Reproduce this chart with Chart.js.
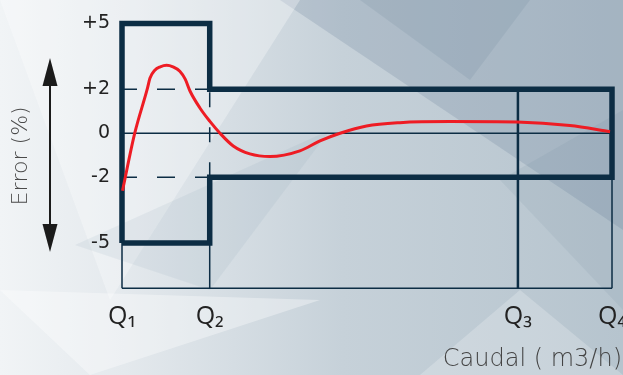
<!DOCTYPE html>
<html>
<head>
<meta charset="utf-8">
<script src="https://cdn.jsdelivr.net/npm/chart.js@4.4.1/dist/chart.umd.min.js"></script>
<style>
html, body { margin: 0; padding: 0; background: #e9eef1; }
#wrap { width: 623px; height: 375px; position: relative; }
</style>
</head>
<body>
<div id="wrap"><canvas id="errorChart"></canvas></div>
<script>
// ---- data ----
const flowLabels = ["Q₁", "Q₂", "Q₃", "Q₄"];
const flowPositions = [0, 1.79, 8.08, 10];     // Q1 .. Q4 on the flow axis
const errorTicks = [5, 2, 0, -2, -5];
const upperLimit = [5, 2];                     // Q1-Q2, Q2-Q4
const lowerLimit = [-5, -2];
const frameBottom = -7.06;

const curveFlow  = [0.01, 0.26, 0.52, 0.57, 0.67, 0.78, 0.91, 1.04, 1.18, 1.29, 1.39, 1.59, 1.79, 2.0, 2.27, 2.61, 3.02, 3.63, 4.04, 4.45, 4.99, 5.67, 6.69, 8.06, 9.14, 9.96];
const curveError = [-2.62, 0.0, 2.05, 2.5, 2.87, 3.02, 3.09, 3.02, 2.82, 2.46, 1.91, 1.15, 0.55, 0.0, -0.58, -0.94, -1.06, -0.8, -0.35, 0.0, 0.33, 0.48, 0.53, 0.51, 0.35, 0.07];

const NAVY = "#0c2d44";

// ---- build point lists ----
const [q1, q2, q3, q4] = flowPositions;
const envelope = [
    { x: q1, y: lowerLimit[0] }, { x: q1, y: upperLimit[0] },
    { x: q2, y: upperLimit[0] }, { x: q2, y: upperLimit[1] },
    { x: q4, y: upperLimit[1] }, { x: q4, y: lowerLimit[1] },
    { x: q2, y: lowerLimit[1] }, { x: q2, y: lowerLimit[0] },
    { x: q1, y: lowerLimit[0] }
];
const curve = curveFlow.map((x, i) => ({ x, y: curveError[i] }));

function seg(a, b, opts) {
    return Object.assign({
        data: [a, b], borderColor: NAVY, borderWidth: 1.5,
        pointRadius: 0, tension: 0, clip: false, fill: false
    }, opts || {});
}

const datasets = [
    {
        data: curve, borderColor: "#ee1c24", borderWidth: 3,
        pointRadius: 0, cubicInterpolationMode: "monotone", clip: false, fill: false
    },
    seg(envelope[0], envelope[1], { data: envelope, borderWidth: 5.5, borderJoinStyle: "miter" }),
    // dashed limits between Q1 and Q2
    seg({ x: q1, y: upperLimit[1] }, { x: q2, y: upperLimit[1] }, { borderDash: [18, 20], borderDashOffset: 3 }),
    seg({ x: q1, y: lowerLimit[1] }, { x: q2, y: lowerLimit[1] }, { borderDash: [18, 20], borderDashOffset: 3 }),
    seg({ x: q2, y: lowerLimit[1] }, { x: q2, y: upperLimit[1] }, { borderDash: [15, 20] }),
    // zero line and lower frame
    seg({ x: q1, y: 0 }, { x: q4, y: 0 }),
    seg({ x: q1, y: frameBottom }, { x: q4, y: frameBottom }),
    seg({ x: q1, y: lowerLimit[0] }, { x: q1, y: frameBottom }),
    seg({ x: q2, y: lowerLimit[0] }, { x: q2, y: frameBottom }),
    seg({ x: q3, y: upperLimit[1] }, { x: q3, y: frameBottom }, { borderWidth: 2.5 }),
    seg({ x: q4, y: lowerLimit[1] }, { x: q4, y: frameBottom })
];

// ---- background & arrow ----
const backdrop = {
    id: "backdrop",
    beforeDraw(chart) {
        const ctx = chart.ctx, w = chart.width, h = chart.height;
        ctx.save();
        const g = ctx.createLinearGradient(0, 0, w, 0);
        g.addColorStop(0, "#f1f4f6");
        g.addColorStop(0.2, "#e4e9ed");
        g.addColorStop(0.55, "#c6d1d9");
        g.addColorStop(1, "#b6c4ce");
        ctx.fillStyle = g;
        ctx.fillRect(0, 0, w, h);
        const tri = (pts, col) => {
            ctx.beginPath();
            ctx.moveTo(pts[0][0], pts[0][1]);
            pts.slice(1).forEach(p => ctx.lineTo(p[0], p[1]));
            ctx.closePath();
            ctx.fillStyle = col;
            ctx.fill();
        };
        tri([[280, 0], [623, 0], [623, 230]], "rgba(100,125,148,0.22)");
        tri([[360, 0], [530, 0], [470, 80]], "rgba(95,120,140,0.14)");
        tri([[0, 0], [300, 0], [110, 300]], "rgba(255,255,255,0.30)");
        tri([[0, 290], [320, 300], [90, 375]], "rgba(255,255,255,0.35)");
        tri([[420, 375], [520, 290], [623, 375]], "rgba(255,255,255,0.22)");
        tri([[500, 180], [623, 110], [623, 310]], "rgba(100,125,145,0.10)");
        tri([[75, 245], [330, 130], [210, 290]], "rgba(120,145,165,0.10)");
        ctx.restore();
    },
    afterDraw(chart) {
        const ctx = chart.ctx;
        const x = 50, top = 58, bot = 252, head = 28, half = 7.5;
        ctx.save();
        ctx.strokeStyle = "#1b1b1b";
        ctx.fillStyle = "#1b1b1b";
        ctx.lineWidth = 2;
        ctx.beginPath();
        ctx.moveTo(x, top + head - 2);
        ctx.lineTo(x, bot - head + 2);
        ctx.stroke();
        ctx.beginPath();
        ctx.moveTo(x, top); ctx.lineTo(x - half, top + head); ctx.lineTo(x + half, top + head);
        ctx.closePath(); ctx.fill();
        ctx.beginPath();
        ctx.moveTo(x, bot); ctx.lineTo(x - half, bot - head); ctx.lineTo(x + half, bot - head);
        ctx.closePath(); ctx.fill();
        ctx.restore();
    }
};

new Chart(document.getElementById("errorChart"), {
    type: "line",
    data: { datasets },
    options: {
        responsive: true,
        maintainAspectRatio: false,
        animation: false,
        events: [],
        layout: { padding: { top: 22, right: 1, bottom: 0, left: 0 } },
        plugins: { legend: { display: false }, tooltip: { enabled: false } },
        scales: {
            x: {
                type: "linear",
                min: 0,
                max: 10.204,
                grid: { display: false, drawTicks: false },
                border: { display: false },
                afterFit: s => { s.height = 86.7; s.paddingLeft = 0; s.paddingRight = 0; },
                afterBuildTicks: s => { s.ticks = flowPositions.map(v => ({ value: v })); },
                ticks: {
                    padding: 14,
                    color: "#222",
                    font: { family: "'Open Sans', 'DejaVu Sans', sans-serif", size: 25 },
                    callback: (v, i) => flowLabels[i]
                },
                title: {
                    display: true,
                    text: "Caudal ( m3/h)",
                    align: "end",
                    color: "#444",
                    padding: { top: 0, bottom: 1 },
                    font: { family: "'DejaVu Sans', sans-serif", size: 24, weight: 200 }
                }
            },
            y: {
                type: "linear",
                min: frameBottom,
                max: 5,
                grid: { display: false, drawTicks: false },
                border: { display: false },
                afterFit: s => { s.width = 122; },
                afterBuildTicks: s => { s.ticks = errorTicks.map(v => ({ value: v })); },
                ticks: {
                    padding: 12,
                    color: "#222",
                    font: { family: "'DejaVu Sans', sans-serif", size: 19 },
                    callback: v => (v > 0 ? "+" + v : String(v))
                },
                title: {
                    display: true,
                    text: "Error (%)",
                    color: "#4a4a4a",
                    padding: { top: 8, bottom: 0 },
                    font: { family: "'DejaVu Sans', sans-serif", size: 22, weight: 200 }
                }
            }
        }
    },
    plugins: [backdrop]
});
</script>
</body>
</html>
